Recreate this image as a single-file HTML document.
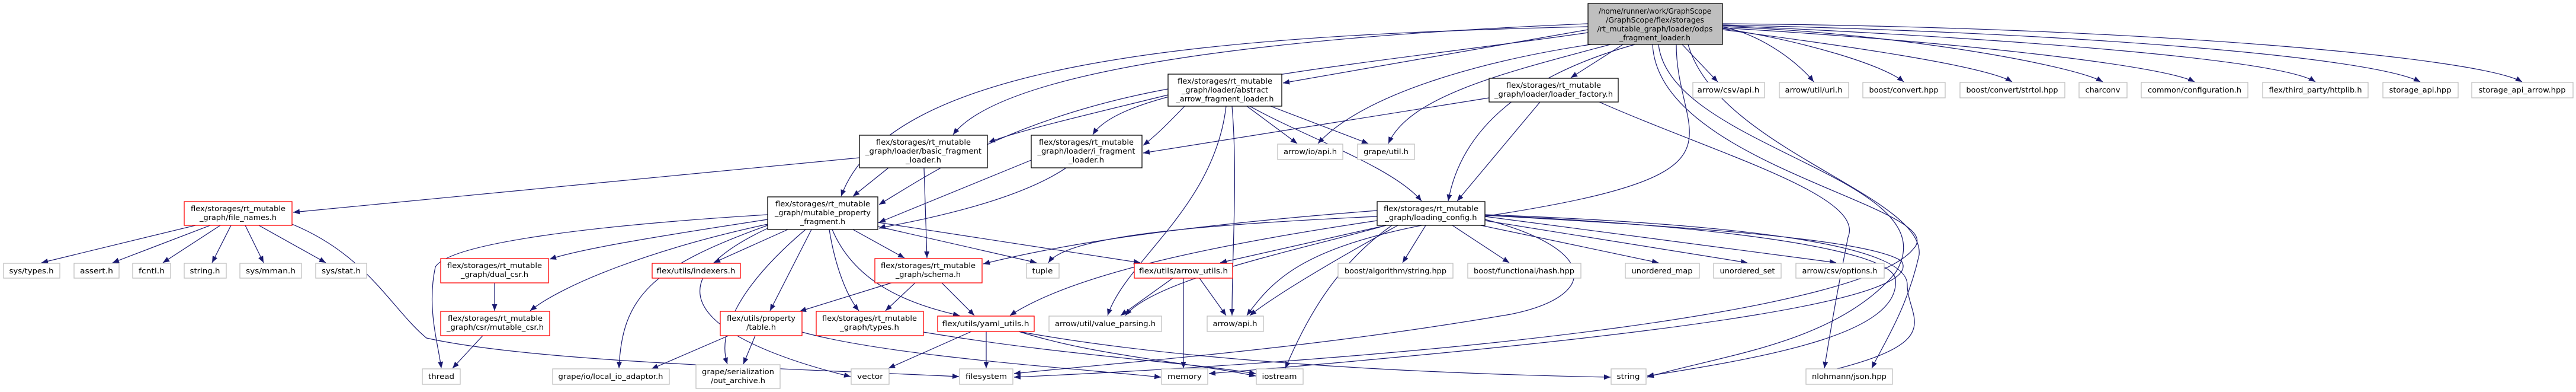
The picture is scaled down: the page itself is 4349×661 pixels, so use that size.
<!DOCTYPE html>
<html><head><meta charset="utf-8"><style>
html,body{margin:0;padding:0;background:#fff;}
svg{display:block;}
text{font-family:"DejaVu Sans","Liberation Sans",sans-serif;font-size:12px;fill:#000;}
.e{fill:none;stroke:#191970;stroke-width:1.2;}
.n{fill:#fff;stroke:#000;stroke-width:1.3;}
.r{fill:#fff;stroke:#ff0000;stroke-width:1.3;}
.g{fill:#fff;stroke:#bfbfbf;stroke-width:1.3;}
</style></head><body>
<svg width="4349" height="661" viewBox="0 0 4349 661" xmlns="http://www.w3.org/2000/svg">
<defs><marker id="a" markerWidth="11" markerHeight="9" refX="11" refY="4.5" orient="auto" markerUnits="userSpaceOnUse"><path d="M0,0 L11,4.5 L0,9z" fill="#191970"/></marker></defs>
<g marker-end="url(#a)">
<!-- from top node -->
<path class="e" d="M2681 50 L2166 140"/>
<path class="e" d="M2740 75 L2652 131"/>
<path class="e" d="M2840 75 L2900 138"/>
<path class="e" d="M2908 45 C2980 60,3040 110,3062 138"/>
<path class="e" d="M2908 48 C3050 70,3180 110,3214 138"/>
<path class="e" d="M2908 50 C3100 75,3350 110,3397 138"/>
<path class="e" d="M2908 45 C3200 55,3500 110,3550 138"/>
<path class="e" d="M2908 47 C3300 70,3650 110,3705 138"/>
<path class="e" d="M2908 43 C3400 65,3850 100,3909 138"/>
<path class="e" d="M2908 42 C3500 55,4000 95,4086 138"/>
<path class="e" d="M2908 40 C3600 45,4180 95,4258 138"/>
<path class="e" d="M2681 40 C2200 60,1700 110,1609 227"/>
<path class="e" d="M2681 55 C2300 110,1900 140,1845 227"/>
<path class="e" d="M2681 45 C2000 60,1500 110,1420 331"/>
<path class="e" d="M2760 75 C2600 120,2470 200,2445 339"/>
<path class="e" d="M2720 70 C2500 100,2300 160,2225 242"/>
<path class="e" d="M2730 72 C2550 120,2380 160,2344 242"/>
<path class="e" d="M2830 75 C2830 250,3000 300,2400 380 C2200 420,2150 470,2105 532"/>
<path class="e" d="M2800 75 C2820 250,3300 300,3200 460 C3100 580,2900 600,2781 636"/>
<path class="e" d="M2790 75 C2800 280,3300 350,3230 420 C3150 520,2500 600,1712 636"/>
<path class="e" d="M2850 75 C2900 250,3250 330,3240 430 C3220 520,3180 580,3160 621"/>
<!-- abstract -->
<path class="e" d="M1972 160 C1850 190,1720 220,1669 240"/>
<path class="e" d="M2000 179 C1970 210,1950 230,1930 245"/>
<path class="e" d="M1972 150 C1700 200,1560 300,1484 345"/>
<path class="e" d="M2110 179 C2200 230,2350 280,2400 339"/>
<path class="e" d="M2105 179 L2190 242"/>
<path class="e" d="M2145 179 L2310 242"/>
<path class="e" d="M2080 179 C2090 300,2080 420,2080 532"/>
<path class="e" d="M2070 179 C2050 350,1900 440,1870 532"/>
<!-- loader factory -->
<path class="e" d="M2514 165 L1930 258"/>
<path class="e" d="M2600 172 L2460 339"/>
<path class="e" d="M2700 172 C2900 260,3150 330,3120 400 C3100 500,3090 560,3080 621"/>
<!-- basic -->
<path class="e" d="M1451 266 L495 358"/>
<path class="e" d="M1500 283 L1440 331"/>
<path class="e" d="M1560 283 L1565 435"/>
<!-- i_fragment -->
<path class="e" d="M1741 270 L1484 375"/>
<path class="e" d="M1800 283 C1700 350,1500 380,1484 385"/>
<!-- mutable_property_fragment -->
<path class="e" d="M1330 387 L1205 443"/>
<path class="e" d="M1440 387 L1527 435"/>
<path class="e" d="M1482 382 L1750 443"/>
<path class="e" d="M1482 375 L1925 443"/>
<path class="e" d="M1370 387 L1300 524"/>
<path class="e" d="M1400 387 C1410 450,1430 500,1450 524"/>
<path class="e" d="M1405 387 C1440 470,1520 510,1620 532"/>
<path class="e" d="M1296 370 C1100 400,980 420,928 437"/>
<path class="e" d="M1296 378 C1100 420,950 480,895 524"/>
<path class="e" d="M1296 362 C1000 380,760 410,735 450 C720 520,740 580,745 621"/>
<path class="e" d="M1296 380 C1100 450,1050 500,1045 621"/>
<path class="e" d="M1360 387 C1250 480,1210 560,1228 614"/>
<path class="e" d="M1296 385 C1050 500,1250 590,1436 635"/>
<!-- loading_config -->
<path class="e" d="M2325 355 C2000 380,1800 410,1660 445"/>
<path class="e" d="M2325 365 C2000 380,1800 400,1770 443"/>
<path class="e" d="M2340 380 L2060 443"/>
<path class="e" d="M2325 372 C2000 420,1800 470,1705 532"/>
<path class="e" d="M2407 380 L2368 443"/>
<path class="e" d="M2452 380 L2548 443"/>
<path class="e" d="M2500 380 L2800 443"/>
<path class="e" d="M2507 372 L2950 443"/>
<path class="e" d="M2507 365 L3100 443"/>
<path class="e" d="M2340 380 C2200 420,1950 470,1900 532"/>
<path class="e" d="M2360 380 C2250 440,2150 500,2110 532"/>
<path class="e" d="M2350 380 C2250 450,2200 550,2170 621"/>
<path class="e" d="M2507 370 C2700 420,2700 500,2550 530 C2200 590,1900 610,1712 630"/>
<path class="e" d="M2507 363 C2800 380,3150 400,3210 440 C3250 500,2900 560,2041 630"/>
<path class="e" d="M2507 363 C2900 380,3190 420,3200 470 C3210 560,3000 600,2781 634"/>
<path class="e" d="M2507 362 C3000 380,3220 420,3220 480 C3220 540,3300 580,3050 634"/>
<!-- file_names -->
<path class="e" d="M330 380 L70 443"/>
<path class="e" d="M355 380 L190 443"/>
<path class="e" d="M372 380 L275 443"/>
<path class="e" d="M390 380 L358 443"/>
<path class="e" d="M414 380 L445 443"/>
<path class="e" d="M437 380 L550 443"/>
<path class="e" d="M493 378 C620 430,660 520,720 570 C900 610,1300 620,1619 635"/>
<!-- csr -->
<path class="e" d="M835 477 L835 524"/>
<path class="e" d="M815 566 L764 621"/>
<!-- schema -->
<path class="e" d="M1505 477 L1350 525"/>
<path class="e" d="M1545 477 L1495 524"/>
<path class="e" d="M1590 477 L1645 532"/>
<!-- arrow_utils -->
<path class="e" d="M1980 469 L1892 532"/>
<path class="e" d="M1998 469 L1998 621"/>
<path class="e" d="M2025 469 L2070 532"/>
<!-- yaml -->
<path class="e" d="M1640 559 L1500 621"/>
<path class="e" d="M1665 559 L1665 621"/>
<path class="e" d="M1720 559 C1850 600,2000 610,2120 634"/>
<path class="e" d="M1720 559 C2000 610,2400 630,2719 636"/>
<!-- property table -->
<path class="e" d="M1230 566 L1100 622"/>
<path class="e" d="M1275 566 L1255 614"/>
<path class="e" d="M1354 560 C1500 600,1800 620,1960 636"/>
<!-- types -->
<path class="e" d="M1559 560 C1800 600,2000 610,2120 630"/>
</g>
<!-- nodes -->
<g text-anchor="middle">
<rect x="2681" y="6" width="227" height="69" fill="#bfbfbf" stroke="#000" stroke-width="1.3"/>
<text x="2794" y="23" textLength="190" lengthAdjust="spacingAndGlyphs">/home/runner/work/GraphScope</text>
<text x="2794" y="38" textLength="166" lengthAdjust="spacingAndGlyphs">/GraphScope/flex/storages</text>
<text x="2794" y="53" textLength="195" lengthAdjust="spacingAndGlyphs">/rt_mutable_graph/loader/odps</text>
<text x="2794" y="68" textLength="120" lengthAdjust="spacingAndGlyphs">_fragment_loader.h</text>

<rect class="n" x="1972" y="125" width="192" height="54"/>
<text x="2068" y="141" textLength="160" lengthAdjust="spacingAndGlyphs">flex/storages/rt_mutable</text>
<text x="2068" y="156" textLength="146" lengthAdjust="spacingAndGlyphs">_graph/loader/abstract</text>
<text x="2068" y="171" textLength="165" lengthAdjust="spacingAndGlyphs">_arrow_fragment_loader.h</text>

<rect class="n" x="2514" y="132" width="218" height="40"/>
<text x="2623" y="148" textLength="160" lengthAdjust="spacingAndGlyphs">flex/storages/rt_mutable</text>
<text x="2623" y="163" textLength="200" lengthAdjust="spacingAndGlyphs">_graph/loader/loader_factory.h</text>

<rect class="n" x="1451" y="228" width="216" height="55"/>
<text x="1559" y="244" textLength="160" lengthAdjust="spacingAndGlyphs">flex/storages/rt_mutable</text>
<text x="1559" y="259" textLength="196" lengthAdjust="spacingAndGlyphs">_graph/loader/basic_fragment</text>
<text x="1559" y="274" textLength="60" lengthAdjust="spacingAndGlyphs">_loader.h</text>

<rect class="n" x="1741" y="228" width="187" height="55"/>
<text x="1834" y="244" textLength="160" lengthAdjust="spacingAndGlyphs">flex/storages/rt_mutable</text>
<text x="1834" y="259" textLength="165" lengthAdjust="spacingAndGlyphs">_graph/loader/i_fragment</text>
<text x="1834" y="274" textLength="60" lengthAdjust="spacingAndGlyphs">_loader.h</text>

<rect class="n" x="1296" y="332" width="186" height="55"/>
<text x="1389" y="348" textLength="160" lengthAdjust="spacingAndGlyphs">flex/storages/rt_mutable</text>
<text x="1389" y="363" textLength="162" lengthAdjust="spacingAndGlyphs">_graph/mutable_property</text>
<text x="1389" y="378" textLength="76" lengthAdjust="spacingAndGlyphs">_fragment.h</text>

<rect class="n" x="2325" y="340" width="182" height="40"/>
<text x="2416" y="356" textLength="160" lengthAdjust="spacingAndGlyphs">flex/storages/rt_mutable</text>
<text x="2416" y="371" textLength="155" lengthAdjust="spacingAndGlyphs">_graph/loading_config.h</text>

<rect class="r" x="311" y="340" width="182" height="40"/>
<text x="402" y="356" textLength="160" lengthAdjust="spacingAndGlyphs">flex/storages/rt_mutable</text>
<text x="402" y="371" textLength="130" lengthAdjust="spacingAndGlyphs">_graph/file_names.h</text>

<rect class="r" x="744" y="436" width="182" height="41"/>
<text x="835" y="452" textLength="160" lengthAdjust="spacingAndGlyphs">flex/storages/rt_mutable</text>
<text x="835" y="467" textLength="114" lengthAdjust="spacingAndGlyphs">_graph/dual_csr.h</text>

<rect class="r" x="744" y="525" width="184" height="41"/>
<text x="836" y="541" textLength="160" lengthAdjust="spacingAndGlyphs">flex/storages/rt_mutable</text>
<text x="836" y="556" textLength="164" lengthAdjust="spacingAndGlyphs">_graph/csr/mutable_csr.h</text>

<rect class="r" x="1477" y="436" width="181" height="41"/>
<text x="1567" y="452" textLength="160" lengthAdjust="spacingAndGlyphs">flex/storages/rt_mutable</text>
<text x="1567" y="467" textLength="110" lengthAdjust="spacingAndGlyphs">_graph/schema.h</text>

<rect class="r" x="1378" y="525" width="181" height="41"/>
<text x="1468" y="541" textLength="160" lengthAdjust="spacingAndGlyphs">flex/storages/rt_mutable</text>
<text x="1468" y="556" textLength="100" lengthAdjust="spacingAndGlyphs">_graph/types.h</text>

<rect class="r" x="1216" y="525" width="138" height="41"/>
<text x="1285" y="541" textLength="116" lengthAdjust="spacingAndGlyphs">flex/utils/property</text>
<text x="1285" y="556" textLength="50" lengthAdjust="spacingAndGlyphs">/table.h</text>

<rect class="g" x="1175" y="615" width="142" height="40"/>
<text x="1246" y="631" textLength="122" lengthAdjust="spacingAndGlyphs">grape/serialization</text>
<text x="1246" y="646" textLength="92" lengthAdjust="spacingAndGlyphs">/out_archive.h</text>

<rect class="r" x="1101" y="444" width="149" height="25"/>
<text x="1175" y="461" textLength="133" lengthAdjust="spacingAndGlyphs">flex/utils/indexers.h</text>
<rect class="r" x="1915" y="444" width="166" height="25"/>
<text x="1998" y="461" textLength="150" lengthAdjust="spacingAndGlyphs">flex/utils/arrow_utils.h</text>
<rect class="r" x="1583" y="533" width="163" height="26"/>
<text x="1664" y="550" textLength="147" lengthAdjust="spacingAndGlyphs">flex/utils/yaml_utils.h</text>
</g>
<g text-anchor="middle">
<!-- gray single-line boxes: x,w -->
<rect class="g" x="2858" y="139" width="121" height="26"/><text x="2918" y="156" textLength="105" lengthAdjust="spacingAndGlyphs">arrow/csv/api.h</text>
<rect class="g" x="3004" y="139" width="117" height="26"/><text x="3062" y="156" textLength="97" lengthAdjust="spacingAndGlyphs">arrow/util/uri.h</text>
<rect class="g" x="3145" y="139" width="139" height="26"/><text x="3214" y="156" textLength="117" lengthAdjust="spacingAndGlyphs">boost/convert.hpp</text>
<rect class="g" x="3309" y="139" width="177" height="26"/><text x="3397" y="156" textLength="155" lengthAdjust="spacingAndGlyphs">boost/convert/strtol.hpp</text>
<rect class="g" x="3510" y="139" width="81" height="26"/><text x="3550" y="156" textLength="59" lengthAdjust="spacingAndGlyphs">charconv</text>
<rect class="g" x="3615" y="139" width="180" height="26"/><text x="3705" y="156" textLength="158" lengthAdjust="spacingAndGlyphs">common/configuration.h</text>
<rect class="g" x="3820" y="139" width="178" height="26"/><text x="3909" y="156" textLength="157" lengthAdjust="spacingAndGlyphs">flex/third_party/httplib.h</text>
<rect class="g" x="4023" y="139" width="127" height="26"/><text x="4086" y="156" textLength="105" lengthAdjust="spacingAndGlyphs">storage_api.hpp</text>
<rect class="g" x="4173" y="139" width="171" height="26"/><text x="4258" y="156" textLength="147" lengthAdjust="spacingAndGlyphs">storage_api_arrow.hpp</text>

<rect class="g" x="2157" y="243" width="110" height="26"/><text x="2212" y="260" textLength="90" lengthAdjust="spacingAndGlyphs">arrow/io/api.h</text>
<rect class="g" x="2292" y="243" width="96" height="26"/><text x="2340" y="260" textLength="76" lengthAdjust="spacingAndGlyphs">grape/util.h</text>

<rect class="g" x="6" y="444" width="95" height="25"/><text x="53" y="461" textLength="75" lengthAdjust="spacingAndGlyphs">sys/types.h</text>
<rect class="g" x="125" y="444" width="76" height="25"/><text x="163" y="461" textLength="56" lengthAdjust="spacingAndGlyphs">assert.h</text>
<rect class="g" x="224" y="444" width="64" height="25"/><text x="256" y="461" textLength="44" lengthAdjust="spacingAndGlyphs">fcntl.h</text>
<rect class="g" x="311" y="444" width="71" height="25"/><text x="346" y="461" textLength="51" lengthAdjust="spacingAndGlyphs">string.h</text>
<rect class="g" x="405" y="444" width="104" height="25"/><text x="457" y="461" textLength="84" lengthAdjust="spacingAndGlyphs">sys/mman.h</text>
<rect class="g" x="533" y="444" width="86" height="25"/><text x="576" y="461" textLength="66" lengthAdjust="spacingAndGlyphs">sys/stat.h</text>
<rect class="g" x="1733" y="444" width="55" height="25"/><text x="1760" y="461" textLength="35" lengthAdjust="spacingAndGlyphs">tuple</text>
<rect class="g" x="2259" y="444" width="194" height="25"/><text x="2356" y="461" textLength="172" lengthAdjust="spacingAndGlyphs">boost/algorithm/string.hpp</text>
<rect class="g" x="2478" y="444" width="191" height="25"/><text x="2573" y="461" textLength="170" lengthAdjust="spacingAndGlyphs">boost/functional/hash.hpp</text>
<rect class="g" x="2744" y="444" width="125" height="25"/><text x="2806" y="461" textLength="103" lengthAdjust="spacingAndGlyphs">unordered_map</text>
<rect class="g" x="2893" y="444" width="114" height="25"/><text x="2950" y="461" textLength="93" lengthAdjust="spacingAndGlyphs">unordered_set</text>
<rect class="g" x="3032" y="444" width="149" height="25"/><text x="3106" y="461" textLength="127" lengthAdjust="spacingAndGlyphs">arrow/csv/options.h</text>

<rect class="g" x="1771" y="533" width="190" height="26"/><text x="1866" y="550" textLength="170" lengthAdjust="spacingAndGlyphs">arrow/util/value_parsing.h</text>
<rect class="g" x="2038" y="533" width="95" height="26"/><text x="2085" y="550" textLength="75" lengthAdjust="spacingAndGlyphs">arrow/api.h</text>

<rect class="g" x="713" y="622" width="64" height="26"/><text x="745" y="639" textLength="44" lengthAdjust="spacingAndGlyphs">thread</text>
<rect class="g" x="933" y="622" width="197" height="26"/><text x="1031" y="639" textLength="177" lengthAdjust="spacingAndGlyphs">grape/io/local_io_adaptor.h</text>
<rect class="g" x="1437" y="622" width="64" height="26"/><text x="1469" y="639" textLength="44" lengthAdjust="spacingAndGlyphs">vector</text>
<rect class="g" x="1620" y="622" width="90" height="26"/><text x="1665" y="639" textLength="70" lengthAdjust="spacingAndGlyphs">filesystem</text>
<rect class="g" x="1961" y="622" width="78" height="26"/><text x="2000" y="639" textLength="58" lengthAdjust="spacingAndGlyphs">memory</text>
<rect class="g" x="2121" y="622" width="79" height="26"/><text x="2160" y="639" textLength="59" lengthAdjust="spacingAndGlyphs">iostream</text>
<rect class="g" x="2720" y="622" width="59" height="26"/><text x="2749" y="639" textLength="39" lengthAdjust="spacingAndGlyphs">string</text>
<rect class="g" x="3049" y="622" width="146" height="26"/><text x="3122" y="639" textLength="126" lengthAdjust="spacingAndGlyphs">nlohmann/json.hpp</text>
</g>
</svg>
</body></html>
